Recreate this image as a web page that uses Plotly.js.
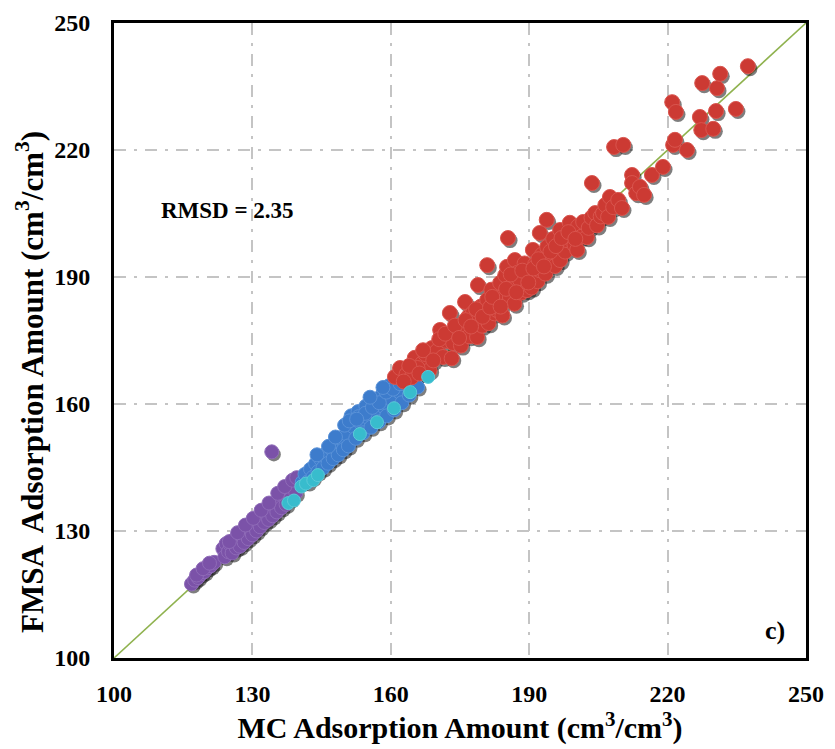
<!DOCTYPE html>
<html>
<head>
<meta charset="utf-8">
<script src="https://cdn.plot.ly/plotly-3.0.1.min.js"></script>
<style>html,body{margin:0;padding:0;background:#fff;}#chart{width:835px;height:749px;}</style>
</head>
<body>
<div id="chart"></div>
<script>
// Axis ticks
const tickValues = [100, 130, 160, 190, 220, 250];
const tickLabels = ["100", "130", "160", "190", "220", "250"];
const parityLine = [100, 250];

// Purple series (MC, FMSA)
const purpleX = [116.8,117.5,118.2,118.9,119.6,120.3,121.0,121.7,117.9,119.3,120.7,
  123.6,124.0,124.3,124.8,125.2,125.6,126.0,126.5,126.9,127.3,127.8,128.2,128.7,129.1,129.5,130.0,130.4,130.9,131.3,131.7,132.2,132.6,133.1,133.5,134.0,134.4,134.9,135.3,135.8,136.3,136.8,137.3,137.8,138.3,138.9,139.4,
  125.0,126.8,128.5,130.2,131.9,133.6,135.5,137.0,138.7,139.6,
  134.2];
const purpleY = [117.5,118.4,119.0,119.9,120.4,121.3,121.8,122.6,119.6,121.1,122.4,
  125.8,123.9,127.0,125.1,126.8,124.8,127.9,126.0,128.9,126.4,129.8,127.3,130.4,128.2,131.6,129.1,132.3,130.0,133.2,131.0,134.1,132.0,134.8,132.7,135.9,133.6,136.6,134.5,137.4,135.5,138.6,136.3,139.7,137.6,140.8,139.0,
  127.5,129.6,131.4,133.0,134.9,136.6,138.9,140.5,142.0,142.6,
  148.7];

// Blue series
const blueX = [140.8,141.4,142.0,142.6,143.1,143.7,144.2,144.8,145.3,145.9,146.4,147.0,147.5,148.1,148.6,149.2,149.7,150.3,150.8,151.4,151.9,152.4,152.9,153.4,154.0,154.6,155.1,155.7,156.3,156.8,157.4,158.0,158.5,159.1,159.6,160.2,160.7,161.3,161.8,162.4,162.9,163.5,164.0,164.6,165.2,165.8,166.5,
  150.0,151.0,153.0,154.5,156.0,157.5,159.0,160.5,162.0,
  146.5,148.0,144.0,152.6,155.5,158.3];
const blueY = [141.5,143.4,141.6,144.6,142.7,145.9,144.0,147.0,144.9,148.2,146.0,149.5,147.1,150.6,148.0,151.8,149.2,153.0,150.1,157.2,154.6,151.9,158.2,155.6,153.2,159.5,156.8,154.5,160.6,158.0,155.8,162.0,159.3,157.2,164.3,161.0,158.6,166.1,162.9,160.3,167.3,164.5,162.1,168.0,165.8,164.0,168.6,
  155.0,156.0,157.0,157.8,159.2,160.3,162.8,163.5,164.8,
  150.0,152.2,148.0,156.4,161.6,163.9];

// Red series
const redX = [160.9,162.0,163.4,165.2,164.5,166.8,168.9,167.5,168.4,170.0,170.7,171.3,172.0,172.8,173.5,173.2,174.4,175.6,175.2,176.1,176.8,177.8,177.0,178.7,178.9,179.5,179.8,180.9,180.9,181.2,181.8,182.5,183.0,183.7,183.3,184.2,184.8,185.2,185.4,185.8,186.3,186.9,186.8,187.5,188.0,188.3,189.0,189.5,190.2,190.8,190.5,191.3,191.8,192.3,192.3,192.8,193.5,193.8,193.9,194.5,195.2,195.6,196.2,196.7,196.7,197.3,197.8,198.2,198.8,199.3,199.8,200.4,200.6,201.3,201.7,202.5,202.9,203.6,203.5,204.3,204.7,205.5,206.0,206.5,207.1,207.5,208.2,208.4,209.3,210.1,210.4,212.3,212.3,213.2,214.0,214.9,216.6,219.0,221.0,221.8,221.2,221.6,224.2,227.0,227.3,227.5,229.9,230.5,230.7,231.4,234.8,237.4,
  165.8,167.0,169.2,170.5,171.8,173.9,174.8,176.2,177.4,178.5,179.9,181.5,182.0,183.8,185.0,186.0,187.2,188.5,189.8,190.9,192.0,193.2,194.6,195.8,197.0,198.5,200.0,162.8,164.0,166.2];
const redY = [166.4,168.5,167.0,170.9,166.3,169.6,173.2,171.8,168.0,172.5,177.5,171.1,174.9,181.5,174.4,170.8,177.7,178.2,173.8,184.1,180.6,181.5,176.0,175.8,188.1,183.0,178.5,192.8,184.6,179.1,187.0,181.4,182.2,188.6,185.0,180.9,190.4,192.4,199.2,185.3,188.0,194.0,183.7,191.0,189.3,186.3,193.2,186.9,190.0,196.4,187.5,193.0,189.0,191.6,200.4,195.3,190.8,203.5,197.1,193.5,199.0,192.6,195.5,194.0,201.1,198.0,196.0,198.7,202.8,200.0,197.6,196.4,202.0,199.5,203.0,199.4,201.6,212.2,204.0,205.1,202.2,204.3,205.1,207.0,204.2,208.9,206.5,220.7,208.2,206.3,221.2,214.1,212.2,209.8,211.3,209.4,214.1,216.0,231.3,229.0,221.2,222.4,220.0,227.8,224.7,235.8,225.0,229.2,234.6,238.0,229.7,239.8,
  168.5,172.7,170.3,175.3,176.6,178.5,175.6,179.8,178.3,182.4,180.6,182.8,185.3,183.0,187.2,190.6,186.4,191.5,188.7,192.0,194.2,192.5,196.0,197.3,199.2,200.6,199.0,165.3,169.0,167.2];

// Cyan series
const cyanX = [137.8,139.0,140.6,141.6,143.2,144.2,153.3,157.0,160.7,164.2,168.1];
const cyanY = [136.6,137.2,140.5,141.2,142.0,143.2,152.9,155.7,159.0,162.8,166.4];

const FONT = "Liberation Serif, 'Times New Roman', serif";

function pts(x, y, color, edge, size) {
  return {x: x, y: y, type: 'scatter', mode: 'markers', hoverinfo: 'skip', showlegend: false,
    marker: {color: color, size: size, line: {color: edge, width: 1}}};
}
// soft drop shadow under the points (same data, shifted slightly down-right)
function shadow(x, y, size) {
  return {x: x.map(v => v + 0.45), y: y.map(v => v - 0.6), type: 'scatter', mode: 'markers',
    hoverinfo: 'skip', showlegend: false,
    marker: {color: 'rgba(20,20,20,0.55)', size: size, line: {width: 0}}};
}

const traces = [
  {x: parityLine, y: parityLine, type: 'scatter', mode: 'lines', showlegend: false, hoverinfo: 'skip',
   line: {color: '#8fb24e', width: 1.6}},
  shadow(purpleX, purpleY, 14),
  shadow(blueX, blueY, 14),
  shadow(redX, redY, 15),
  pts(purpleX, purpleY, '#7b52a8', '#8f6bb8', 14),
  pts(blueX, blueY, '#3d7ccc', '#5a92d8', 14),
  pts(redX, redY, '#cc3a33', '#d9554e', 15),
  pts(cyanX, cyanY, '#38bccd', '#5ccad8', 13)
];

const axisCommon = {
  range: [100, 250], tickvals: tickValues, ticktext: tickLabels,
  showline: true, linecolor: '#000', linewidth: 3, mirror: true,
  showgrid: true, gridcolor: '#c4c4c4', gridwidth: 2, griddash: '12px,8px,3px,8px',
  zeroline: false, ticks: '', fixedrange: true,
  tickfont: {family: FONT, size: 24, color: '#000', weight: 'bold'}
};

const layout = {
  width: 835, height: 749,
  margin: {l: 114, r: 29, t: 23, b: 91},
  paper_bgcolor: '#fff', plot_bgcolor: '#fff',
  xaxis: Object.assign({}, axisCommon, {
    ticklabelstandoff: 12,
    title: {text: 'MC Adsorption Amount (cm<sup>3</sup>/cm<sup>3</sup>)', standoff: 8,
            font: {family: FONT, size: 30, color: '#000', weight: 'bold'}}
  }),
  yaxis: Object.assign({}, axisCommon, {
    ticklabelstandoff: 16
  }),
  annotations: [
    {x: -0.121, y: 0.435, xref: 'paper', yref: 'paper', textangle: -90,
     text: 'FMSA  Adsorption Amount (cm<sup>3</sup>/cm<sup>3</sup>)', showarrow: false,
     xanchor: 'center', yanchor: 'middle',
     font: {family: FONT, size: 31, color: '#000', weight: 'bold'}},
    {x: 124.7, y: 205.6, xref: 'x', yref: 'y', text: 'RMSD = 2.35', showarrow: false,
     font: {family: FONT, size: 23, color: '#000', weight: 'bold'}},
    {x: 243.3, y: 106.6, xref: 'x', yref: 'y', text: 'c)', showarrow: false,
     font: {family: FONT, size: 26, color: '#000', weight: 'bold'}}
  ]
};

Plotly.newPlot('chart', traces, layout, {staticPlot: true, displayModeBar: false});
</script>
</body>
</html>
